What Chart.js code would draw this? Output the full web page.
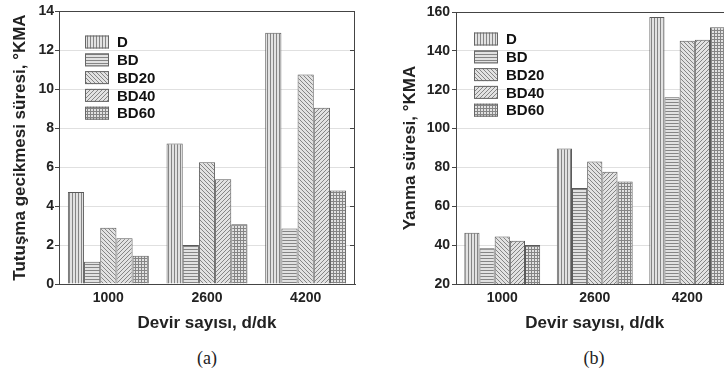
<!DOCTYPE html>
<html>
<head>
<meta charset="utf-8">
<script src="https://cdn.jsdelivr.net/npm/chart.js@4.4.0/dist/chart.umd.min.js"></script>
<style>
  html, body { margin: 0; padding: 0; overflow: hidden; background: #fff; width: 724px; height: 379px; }
  .wrap { position: absolute; top: 0; }
  .cap { position: absolute; font-family: "Liberation Serif", "DejaVu Serif", serif; font-size: 18px; color: #222; transform: translate(-50%, -50%); }
</style>
</head>
<body>
<div class="wrap" style="left:0;width:365px;height:340px"><canvas id="chartA" width="365" height="340"></canvas></div>
<div class="wrap" style="left:390px;width:352px;height:340px"><canvas id="chartB" width="352" height="340"></canvas></div>
<div class="cap" style="left:207px;top:358px">(a)</div>
<div class="cap" style="left:594px;top:358px">(b)</div>
<script>
// engine speed groups
var categories = ["1000", "2600", "4200"];
var seriesNames = ["D", "BD", "BD20", "BD40", "BD60"];

// (a) ignition delay, °KMA
var delayD    = [4.72, 7.21, 12.89];
var delayBD   = [1.14, 2.00, 2.84];
var delayBD20 = [2.89, 6.24, 10.75];
var delayBD40 = [2.34, 5.37, 9.04];
var delayBD60 = [1.45, 3.06, 4.79];

// (b) combustion duration, °KMA
var burnD    = [46.4, 89.8, 157.4];
var burnBD   = [38.4, 69.4, 116.1];
var burnBD20 = [44.4, 83.1, 145.2];
var burnBD40 = [42.3, 77.8, 145.7];
var burnBD60 = [40.1, 72.8, 152.2];

var delayTicks = [0, 2, 4, 6, 8, 10, 12, 14];
var burnTicks = [20, 40, 60, 80, 100, 120, 140, 160];

// hatch patterns like the printed figure
function makePattern(kind) {
    var size = (kind === 'v' || kind === 'h' || kind === 'grid') ? 3 : 4;
    var c = document.createElement('canvas');
    c.width = size; c.height = size;
    var g = c.getContext('2d');
    g.fillStyle = '#e2e2e2';
    g.fillRect(0, 0, size, size);
    g.fillStyle = '#858585';
    for (var i = 0; i < size; i++) {
        if (kind === 'v' || kind === 'grid') g.fillRect(0, i, 1, 1);
        if (kind === 'h' || kind === 'grid') g.fillRect(i, 0, 1, 1);
        if (kind === 'bs') g.fillRect(i, i, 1, 1);
        if (kind === 'fs') g.fillRect(size - 1 - i, i, 1, 1);
    }
    return g.createPattern(c, 'repeat');
}
var fills = [makePattern('v'), makePattern('h'), makePattern('bs'), makePattern('fs'), makePattern('grid')];

var boldFont = "'Liberation Sans', Arial, sans-serif";

// frame + inward right ticks + legend inside the plot
var framePlugin = {
    id: 'frame',
    afterDraw: function (chart, args, opts) {
        var a = chart.chartArea, ctx = chart.ctx, y = chart.scales.y;
        ctx.save();
        ctx.strokeStyle = '#444';
        ctx.lineWidth = 1;
        ctx.beginPath();
        ctx.moveTo(a.left, a.top + 0.5); ctx.lineTo(a.right, a.top + 0.5);
        ctx.moveTo(a.right - 0.5, a.top); ctx.lineTo(a.right - 0.5, a.bottom);
        y.ticks.forEach(function (t) {
            var py = Math.round(y.getPixelForValue(t.value)) + 0.5;
            ctx.moveTo(a.right - 5, py); ctx.lineTo(a.right, py);
        });
        ctx.stroke();
        // legend
        var bx = a.left + opts.dx, by = a.top + opts.dy;
        ctx.font = "bold 15px " + boldFont;
        ctx.textBaseline = 'middle';
        chart.data.datasets.forEach(function (ds, i) {
            var cy = by + i * 17.8;
            ctx.fillStyle = ds.backgroundColor;
            ctx.fillRect(bx, cy - 6.5, 24, 13);
            ctx.strokeStyle = '#666';
            ctx.strokeRect(bx + 0.5, cy - 6, 23, 12);
            ctx.fillStyle = '#111';
            ctx.fillText(ds.label, bx + 32, cy + 1);
        });
        ctx.restore();
    }
};

function buildChart(id, series, tickVals, yTitle, axisWidth, padTop, padRight, legendPos, labelPad) {
    var datasets = series.map(function (vals, i) {
        return {
            label: seriesNames[i],
            data: vals,
            backgroundColor: fills[i],
            borderColor: '#5a5a5a',
            borderWidth: 1,
            categoryPercentage: 0.82,
            barPercentage: 1.0
        };
    });
    return new Chart(document.getElementById(id), {
        type: 'bar',
        data: { labels: categories, datasets: datasets },
        options: {
            responsive: false,
            animation: false,
            layout: { padding: { top: padTop, right: padRight, left: 0, bottom: 0 } },
            plugins: {
                legend: { display: false },
                tooltip: { enabled: false },
                frame: legendPos
            },
            scales: {
                x: {
                    grid: { display: false, drawTicks: false },
                    border: { color: '#444', width: 1 },
                    ticks: { color: '#222', padding: 6, font: { family: boldFont, size: 14, weight: 'bold' } },
                    title: {
                        display: true, text: 'Devir sayısı, d/dk', color: '#222',
                        padding: { top: 0, bottom: 6 },
                        font: { family: boldFont, size: 17, weight: 'bold' }
                    },
                    afterFit: function (s) { s.height = 340 - 284; }
                },
                y: {
                    min: tickVals[0],
                    max: tickVals[tickVals.length - 1],
                    afterBuildTicks: function (s) { s.ticks = tickVals.map(function (v) { return { value: v }; }); },
                    grid: { color: '#e0e0e0', tickColor: '#444', tickLength: 4 },
                    border: { color: '#444', width: 1 },
                    ticks: { color: '#222', padding: labelPad, font: { family: boldFont, size: 14, weight: 'bold' } },
                    title: {
                        display: true, text: yTitle, color: '#222',
                        padding: { top: 10, bottom: 0 },
                        font: { family: boldFont, size: 17, weight: 'bold' }
                    },
                    afterFit: function (s) { s.width = axisWidth; }
                }
            }
        },
        plugins: [framePlugin]
    });
}

buildChart('chartA', [delayD, delayBD, delayBD20, delayBD40, delayBD60], delayTicks,
    'Tutuşma gecikmesi süresi, °KMA', 59, 11, 10, { dx: 26, dy: 31 }, 1);
buildChart('chartB', [burnD, burnBD, burnBD20, burnBD40, burnBD60], burnTicks,
    'Yanma süresi, °KMA', 66, 12, 8.5, { dx: 18, dy: 27 }, 2);
</script>
</body>
</html>
